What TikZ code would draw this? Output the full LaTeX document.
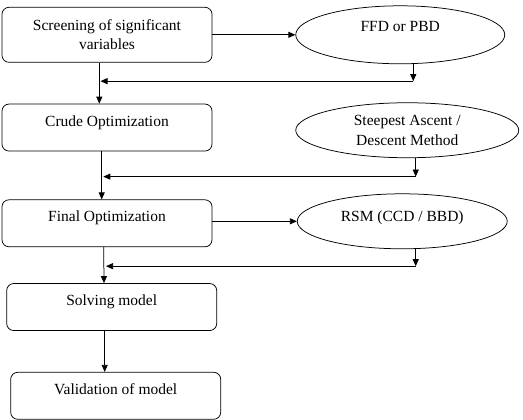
\documentclass[tikz,border=0pt]{standalone}
\usepackage{fontspec}
\setmainfont{Liberation Serif}
\usetikzlibrary{arrows.meta,positioning,shapes.geometric}

\begin{document}
\begin{tikzpicture}[->,>={Triangle[length=7pt,width=6pt]},line width=0.75pt,
    font=\fontsize{15.5pt}{19.5pt}\selectfont]
    \tikzstyle{box}=[draw=black,rectangle,rounded corners=7pt,minimum width=210pt,inner sep=4pt,align=center]
    \tikzstyle{onebox}=[box,text height=18pt,text depth=21pt]
    \tikzstyle{oval}=[draw=black,ellipse,inner sep=0pt,align=center]
    \useasboundingbox (0,0) rectangle (523pt,-420pt);

    \node[box,minimum height=55pt] (screen) at (107pt,-34.8pt) {Screening of significant\\variables};
    \node[onebox, below=41pt of screen] (crude) {Crude Optimization};
    \node[onebox, below=48pt of crude] (final) {Final Optimization};
    \node[onebox, below=36pt of final, xshift=4.7pt] (solve) {Solving model};
    \node[onebox, below=41pt of solve, xshift=4pt] (valid) {Validation of model};

    \node[oval, minimum width=209pt, minimum height=58pt, text height=8pt, text depth=14pt, right=83pt of screen] (ffd) {FFD or PBD};
    \node[oval, minimum width=223pt, minimum height=55pt, right=83pt of crude, yshift=-2.7pt] (steep) {Steepest Ascent /\\Descent Method};
    \node[oval, minimum width=210pt, minimum height=55pt, text height=10pt, text depth=10pt, right=84.5pt of final, yshift=2pt] (rsm) {RSM (CCD / BBD)};

    \coordinate[below=17pt of ffd.south, xshift=13pt] (j1);
    \coordinate[below=18.5pt of steep.south, xshift=8.5pt] (j2);
    \coordinate[below=17pt of rsm.south, xshift=13.5pt] (j3);

    \path
    (screen.east |- ffd.west) edge (ffd.west)
    (final.east |- rsm.west) edge (rsm.west)
    ([xshift=13pt]ffd.south) edge (j1)
    (j1) edge ([xshift=-6.5pt]screen.south |- j1)
    ([xshift=8.5pt]steep.south) edge (j2)
    (j2) edge ([xshift=-3.7pt]crude.south |- j2)
    ([xshift=13.5pt]rsm.south) edge (j3)
    (j3) edge ([xshift=-1pt]final.south |- j3)
    ([xshift=-7.7pt]screen.south) edge ([xshift=-7.7pt]crude.north)
    ([xshift=-5.3pt]crude.south) edge ([xshift=-5.3pt]final.north)
    ([xshift=-3.3pt]final.south) edge ([xshift=-7.7pt]solve.north)
    ([xshift=-7pt]solve.south) edge ([xshift=-11pt]valid.north);
\end{tikzpicture}
\end{document}
